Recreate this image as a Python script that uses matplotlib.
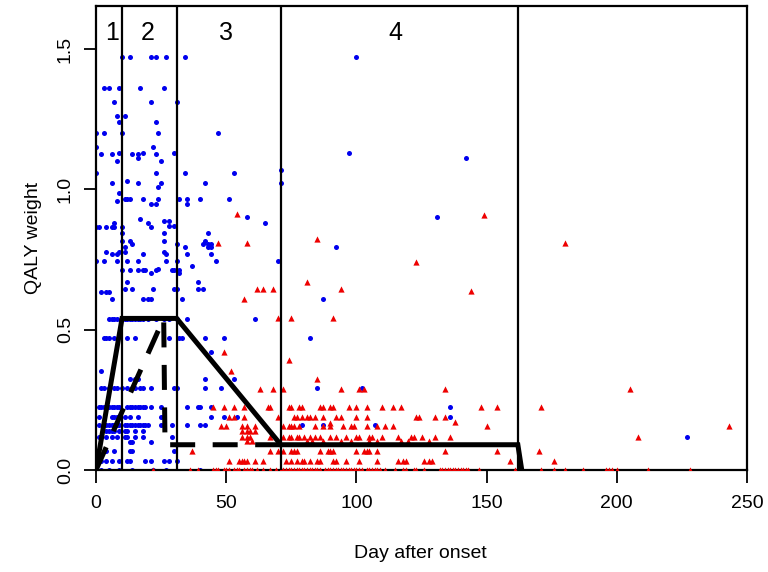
import matplotlib
matplotlib.use("Agg")
import matplotlib.pyplot as plt

plt.rcParams['font.family'] = ['Liberation Sans', 'DejaVu Sans']

# stage boundaries (days) and stage labels
stage_bounds = [10, 31, 71, 162]
stage_names = ["1", "2", "3", "4"]
stage_label_x = [6, 20, 50, 115]

# piecewise QALY curves
solid_day = [0, 10, 31, 71, 162, 163.5]
solid_q = [0, 0.54, 0.54, 0.09, 0.09, 0]
dash_day = [0, 26, 26.5, 71]
dash_q = [0, 0.54, 0.09, 0.09]

# blue points: (QALY level, days)
blue_rows = [
    (1.47, [10, 13, 21, 23, 27, 34, 100]),
    (1.36, [3, 5, 9, 17, 26]),
    (1.31, [7, 21, 31]),
    (1.26, [8, 11]),
    (1.24, [9, 23]),
    (1.20, [0, 3, 10, 24, 47]),
    (1.15, [0, 22]),
    (1.13, [9, 18, 30, 97]),
    (1.125, [2, 6, 14, 16, 23]),
    (1.11, [16, 142]),
    (1.10, [8, 25]),
    (1.07, [71]),
    (1.057, [0, 23, 34, 53]),
    (1.03, [12]),
    (1.024, [6, 16, 25, 42, 71]),
    (1.007, [24]),
    (0.986, [9]),
    (0.967, [11, 12, 13, 18, 24, 32, 35, 40, 51]),
    (0.957, [8]),
    (0.948, [21, 23, 35]),
    (0.90, [58, 131]),
    (0.895, [17]),
    (0.886, [26, 28]),
    (0.879, [7, 20, 65]),
    (0.869, [28, 30]),
    (0.865, [0, 1, 4, 6, 7, 10, 21]),
    (0.845, [10, 26, 43]),
    (0.815, [10, 13, 26, 42]),
    (0.805, [14, 31, 41, 43, 44]),
    (0.796, [11, 34, 43, 44, 92]),
    (0.778, [4, 9, 11, 26]),
    (0.770, [6, 8, 18, 27, 35, 44]),
    (0.746, [0, 3, 8, 12, 16, 27, 31, 46, 70]),
    (0.727, [37]),
    (0.716, [24]),
    (0.712, [10, 13, 16, 18, 19, 23, 29, 30, 32]),
    (0.701, [21, 32]),
    (0.670, [12, 39]),
    (0.646, [11, 14, 22, 30, 31, 39, 41]),
    (0.634, [2, 4, 5]),
    (0.610, [6, 18, 20, 21, 33, 87]),
    (0.539, [5, 6, 7, 8, 10, 11, 12, 13, 14, 15, 16, 17, 18, 20, 23, 26, 28, 31, 35, 61]),
    (0.469, [3, 4, 5, 7, 12, 15, 28, 32, 33, 42, 49, 82]),
    (0.421, [44]),
    (0.353, [2]),
    (0.324, [13, 15, 16, 42, 53]),
    (0.291, [2, 3, 5, 7, 8, 10, 12, 14, 15, 17, 18, 21, 30, 31, 42, 48, 85, 102]),
    (0.224, [1, 2, 3, 5, 6, 7, 8, 9, 12, 13, 14, 15, 16, 17, 18, 19, 21, 25, 35, 39, 40, 44, 136]),
    (0.189, [1, 6, 7, 8, 11, 13, 16, 25, 44, 49, 54, 136]),
    (0.160, [1, 3, 4, 5, 6, 7, 8, 9, 11, 12, 13, 14, 15, 16, 17, 18, 19, 20, 25, 29, 35, 40, 42, 79, 87, 107]),
    (0.139, [4, 5, 6, 7, 9, 11, 12, 15, 18]),
    (0.118, [1, 2, 4, 6, 8, 11, 12, 15, 18, 29, 227]),
    (0.101, [13, 14, 21]),
    (0.068, [4, 7, 13, 14, 30]),
    (0.032, [2, 4, 6, 9, 12, 13, 19, 21, 26, 28, 31]),
    (0.0, [0, 2, 5, 9, 14, 22, 27, 40]),
]

# red points: (QALY level, days)
red_rows = [
    (0.911, [54]),
    (0.908, [149]),
    (0.822, [85]),
    (0.808, [47, 58, 180]),
    (0.74, [123]),
    (0.671, [81]),
    (0.646, [62, 64, 68, 94]),
    (0.637, [144]),
    (0.608, [57]),
    (0.541, [70, 75, 91]),
    (0.421, [49]),
    (0.392, [74]),
    (0.353, [52]),
    (0.323, [85]),
    (0.290, [63, 68, 72, 94, 101, 103, 134, 205]),
    (0.224, [45, 49, 53, 57, 66, 67, 74, 75, 78, 79, 86, 87, 90, 91, 97, 100, 104,
             110, 114, 117, 148, 154, 171]),
    (0.189, [51, 53, 57, 70, 76, 77, 79, 81, 82, 84, 87, 92, 94, 100, 104, 123, 124, 130, 134]),
    (0.171, [138]),
    (0.166, [90]),
    (0.155, [48, 50, 56, 58, 61, 72, 74, 75, 76, 78, 84, 87, 90, 95, 98, 99, 104,
             108, 111, 114, 150, 243]),
    (0.139, [56, 58, 59, 61]),
    (0.119, [56, 58, 59, 67, 72, 74, 75, 77, 78, 80, 82, 84, 86, 90, 92, 96, 100,
             101, 105, 106, 110, 116, 121, 122, 125, 130, 136, 208]),
    (0.103, [58, 60, 81, 83, 87, 94, 98, 105, 108, 117, 120, 128]),
    (0.069, [37, 67, 70, 72, 75, 76, 77, 86, 89, 90, 91, 100, 103, 104, 105, 108, 134, 154, 170]),
    (0.033, [51, 55, 56, 57, 58, 61, 64, 73, 75, 77, 79, 80, 82, 85, 86, 91, 92, 96,
             101, 108, 116, 118, 119, 126, 128, 129, 159, 176]),
    (0.0, [22, 36, 39, 45, 46, 47, 49, 50, 51, 53, 54, 55, 57, 58, 59, 60, 62, 64, 67, 69,
           71, 72, 73, 74, 75, 76, 77, 78, 79, 80, 81, 82, 83, 84, 85, 86, 88, 89, 90, 91,
           92, 93, 94, 95, 96, 97, 98, 99, 100, 101, 102, 104, 105, 106, 107, 108, 109,
           111, 115, 118, 119, 122, 123, 126, 132, 133, 134, 135, 136, 137, 138, 139, 140,
           141, 142, 143, 147, 161, 171, 176, 180, 187, 196, 197, 198, 200, 212, 228]),
]

blue_x = [d for q, days in blue_rows for d in days]
blue_y = [q for q, days in blue_rows for d in days]
red_x = [d for q, days in red_rows for d in days]
red_y = [q for q, days in red_rows for d in days]

fig = plt.figure(figsize=(7.68, 5.72), dpi=100)
ax = fig.add_axes([96 / 768, 1 - 470 / 572, (747 - 96) / 768, (470 - 6) / 572])

ax.scatter(blue_x, blue_y, s=13, marker='o', color='#0000ee', linewidths=0, zorder=2)
ax.scatter(red_x, red_y, s=20, marker='^', color='#ee0000', linewidths=0, zorder=3)

for b in stage_bounds:
    ax.axvline(b, color='black', lw=1.6, zorder=4)

ax.plot(dash_day, dash_q, color='black', lw=3.6, dashes=(5, 3.5), zorder=5)
ax.plot(solid_day, solid_q, color='black', lw=3.6, solid_joinstyle='miter', zorder=6)

for x, name in zip(stage_label_x, stage_names):
    ax.text(x, 1.557, name, ha='center', va='center', fontsize=18)

ax.set_xlim(0, 250)
ax.set_ylim(0, 1.653)
ax.set_xticks([0, 50, 100, 150, 200, 250])
ax.set_yticks([0.0, 0.5, 1.0, 1.5])
ax.set_yticklabels(["0.0", "0.5", "1.0", "1.5"], rotation=90, va='center')
ax.tick_params(direction='out', length=9, width=1.3, labelsize=14)
ax.tick_params(axis='x', pad=9)
ax.tick_params(axis='y', pad=7)
for sp in ax.spines.values():
    sp.set_linewidth(1.6)

fig.text(420 / 768, 1 - 553 / 572, "Day after onset", ha='center', va='center', fontsize=14)
fig.text(34 / 768, 1 - 238 / 572, "QALY weight", ha='center', va='center',
         rotation=90, fontsize=14)

fig.savefig("out.png", dpi=100)
